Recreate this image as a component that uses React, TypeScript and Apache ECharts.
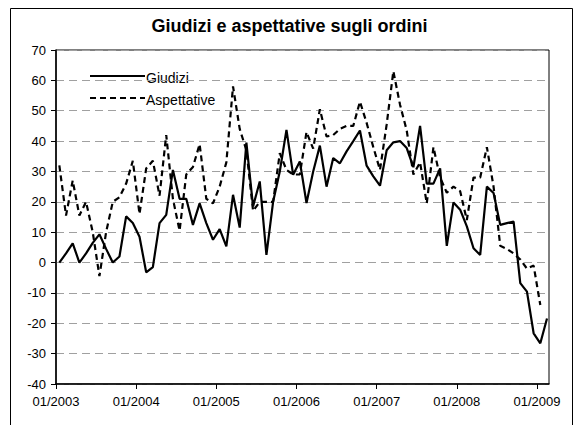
import React, { useEffect, useRef } from "react";
import * as echarts from "echarts";

const chartTitle = "Giudizi e aspettative sugli ordini";
const seriesNames = ["Giudizi", "Aspettative"];
const tickLabels = ["01/2003", "01/2004", "01/2005", "01/2006", "01/2007", "01/2008", "01/2009"];

// monthly values, 01/2003 .. 02/2009
const giudizi = [
  0, 3, 6.3, 0, 3, 6.5, 9.3, 4.5, 0, 2, 15.2, 13,
  8.5, -3.2, -1.5, 13, 15.7, 30.5, 21, 21, 12.4, 19.5, 13, 7.5,
  11, 5.3, 22.3, 11.5, 39.5, 18.5, 26.7, 2.5, 20, 30, 43.7, 28.9,
  33.3, 19.6, 30, 38.5, 25, 34.4, 32.7, 36.6, 40, 43.5, 31.9, 28.4,
  25.3, 37, 39.6, 40, 37.7, 31.4, 45, 26, 26, 31, 5.5, 19.8,
  17.4, 11.9, 4.7, 2.5, 25, 22.9, 12.4, 13, 13.5, -6.8, -9.6, -23.3,
  -26.6, -18.4,
];
const aspettative = [
  32, 15.5, 27, 15.5, 20, 10, -4.5, 10, 20, 21.5, 26, 33.5,
  16, 31, 33.5, 22, 42, 21, 10.5, 29, 31.5, 39, 21, 19.5,
  25, 33, 58, 44, 37, 17, 20, 20, 20, 36, 30.5, 29,
  29, 43, 37.5, 50.5, 41.5, 42, 44, 45, 45, 53, 46, 38,
  30.5, 45.5, 63, 52, 43.5, 29, 33, 19.5, 38, 28, 23, 25,
  23.5, 14, 28, 28, 38, 25, 5.5, 4.5, 3, 1, -2, -1,
  -14, null,
];

const FONT = "'Liberation Sans', Arial, sans-serif";
const DASH = [6, 4];

export default function App() {
  const ref = useRef<HTMLDivElement>(null);
  useEffect(() => {
    if (!ref.current) return;
    const chart = echarts.init(ref.current, undefined, { renderer: "svg" });
    const toPts = (arr: (number | null)[]) =>
      arr.map((v, i) => [i + 0.5, v]).filter((p) => p[1] !== null);
    const tickVals = tickLabels.map((_, k) => k * 12);
    const legendRows = seriesNames.map((name, k) => {
      const y = 76 + k * 22;
      return {
        type: "group",
        silent: true,
        children: [
          {
            type: "line",
            shape: { x1: 90, y1: y, x2: 145, y2: y },
            style: { stroke: "#000", lineWidth: 2.2, lineDash: k === 0 ? null : DASH },
          },
          {
            type: "text",
            x: 146,
            y: y + 1.5,
            style: { text: name, fill: "#000", font: `14px ${FONT}`, verticalAlign: "middle" },
          },
        ],
      };
    });
    chart.setOption({
      animation: false,
      backgroundColor: "#ffffff",
      title: {
        text: chartTitle,
        left: "center",
        top: 12,
        textStyle: { fontFamily: FONT, fontSize: 18, fontWeight: "bold", color: "#000" },
      },
      grid: { left: 56, top: 50, right: 30, bottom: 41, show: true, borderColor: "#000", borderWidth: 1, backgroundColor: "transparent", outerBoundsMode: "none" },
      xAxis: {
        type: "value",
        min: 0,
        max: 73.8,
        axisLine: { onZero: false, lineStyle: { color: "#000", width: 1.5 } },
        axisTick: { show: true, length: 5, lineStyle: { color: "#000" }, customValues: tickVals },
        axisLabel: {
          customValues: tickVals,
          margin: 11,
          fontFamily: FONT,
          fontSize: 13,
          color: "#000",
          formatter: (v: number) => tickLabels[Math.round(v / 12)] ?? "",
        },
        splitLine: { show: false },
      },
      yAxis: {
        type: "value",
        min: -40,
        max: 70,
        interval: 10,
        axisLine: { show: true, lineStyle: { color: "#000", width: 1.5 } },
        axisTick: { show: true, length: 5, lineStyle: { color: "#000" } },
        axisLabel: { margin: 10, fontFamily: FONT, fontSize: 13, color: "#000" },
        splitLine: { show: true, lineStyle: { color: "#a0a0a0", type: [8, 5], width: 1 } },
      },
      graphic: [
        {
          type: "rect",
          shape: { x: 10.5, y: 8.5, width: 562, height: 440 },
          style: { fill: "transparent", stroke: "#000", lineWidth: 1 },
          silent: true,
        },
        ...legendRows,
      ],
      series: [
        {
          name: seriesNames[0],
          type: "line",
          data: toPts(giudizi),
          symbol: "none",
          lineStyle: { color: "#000", width: 2.2, type: "solid" },
        },
        {
          name: seriesNames[1],
          type: "line",
          data: toPts(aspettative),
          symbol: "none",
          lineStyle: { color: "#000", width: 2.2, type: DASH },
        },
      ],
    });
    return () => chart.dispose();
  }, []);
  return (
    <div
      ref={ref}
      style={{ position: "fixed", left: 0, top: 0, width: 579, height: 425, background: "#fff" }}
    />
  );
}
